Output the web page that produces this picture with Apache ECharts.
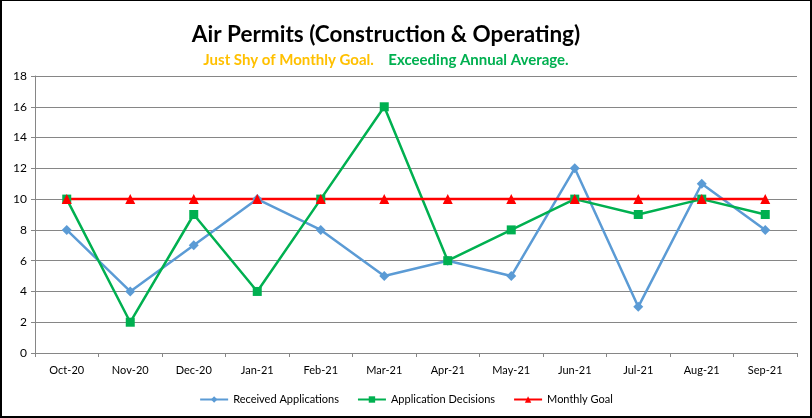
<!DOCTYPE html>
<html><head><meta charset="utf-8">
<script src="https://cdn.jsdelivr.net/npm/echarts@6/dist/echarts.min.js"></script>
<style>
html,body{margin:0;padding:0;background:#fff;}
#wrap{position:relative;width:812px;height:418px;}
#c{position:absolute;left:0;top:0;width:812px;height:418px;}
#frame{position:absolute;left:0;top:0;width:812px;height:418px;box-sizing:border-box;border-top:1px solid #000;border-left:2px solid #000;border-right:2px solid #000;border-bottom:2px solid #000;pointer-events:none;}
</style></head><body>
<div id="wrap"><div id="c"></div><div id="frame"></div></div>
<script>
const categories = ['Oct-20','Nov-20','Dec-20','Jan-21','Feb-21','Mar-21','Apr-21','May-21','Jun-21','Jul-21','Aug-21','Sep-21'];
const receivedApplications = [8,4,7,10,8,5,6,5,12,3,11,8];
const applicationDecisions = [10,2,9,4,10,16,6,8,10,9,10,9];
const monthlyGoal = [10,10,10,10,10,10,10,10,10,10,10,10];
const titleText = 'Air Permits (Construction & Operating)';
const subtitleA = 'Just Shy of Monthly Goal.';
const subtitleB = 'Exceeding Annual Average.';

const FONT = 'Lato';
const chart = echarts.init(document.getElementById('c'), null, {renderer:'canvas'});
chart.setOption({
  animation:false,
  backgroundColor:'#fff',
  graphic:[
    {type:'text', x:386, y:35, style:{text:titleText, textAlign:'center', textVerticalAlign:'middle',
      fontFamily:FONT, fontSize:22.5, fontWeight:'bold', fill:'#000'}},
    {type:'text', x:386, y:60, style:{text:'{a|'+subtitleA+'}    {b|'+subtitleB+'}', textAlign:'center', textVerticalAlign:'middle',
      fontFamily:FONT, fontSize:15, fontWeight:'bold',
      rich:{a:{fill:'#FFC000',fontFamily:FONT,fontSize:15,fontWeight:'bold'},b:{fill:'#00B050',fontFamily:FONT,fontSize:15,fontWeight:'bold'}}}}
  ],
  legend:{
    top:389, left:'center', itemGap:18, itemWidth:28, itemHeight:8,
    textStyle:{fontFamily:FONT,fontSize:11,color:'#000'},
    data:['Received Applications','Application Decisions','Monthly Goal']
  },
  grid:{left:35,right:15,top:76,bottom:65},
  xAxis:{
    type:'category', data:categories, boundaryGap:true,
    axisLine:{lineStyle:{color:'#868686',width:1}},
    axisTick:{show:true,length:4,lineStyle:{color:'#868686'}},
    axisLabel:{fontFamily:FONT,fontSize:11,color:'#000',margin:12}
  },
  yAxis:{
    type:'value', min:0, max:18, interval:2,
    axisLine:{show:true,lineStyle:{color:'#868686'}},
    axisTick:{show:true,length:4,lineStyle:{color:'#868686'}},
    axisLabel:{fontFamily:FONT,fontSize:12,color:'#000',margin:8},
    splitLine:{lineStyle:{color:'#868686',width:1}}
  },
  series:[
    {name:'Received Applications',type:'line',data:receivedApplications,symbol:'diamond',symbolSize:10,
      lineStyle:{color:'#5B9BD5',width:2.5},itemStyle:{color:'#5B9BD5'}},
    {name:'Application Decisions',type:'line',data:applicationDecisions,symbol:'rect',symbolSize:9,
      lineStyle:{color:'#00B050',width:2.5},itemStyle:{color:'#00B050'}},
    {name:'Monthly Goal',type:'line',data:monthlyGoal,symbol:'triangle',symbolSize:10,
      lineStyle:{color:'#FF0000',width:2.5},itemStyle:{color:'#FF0000'}}
  ]
});
</script></body></html>
